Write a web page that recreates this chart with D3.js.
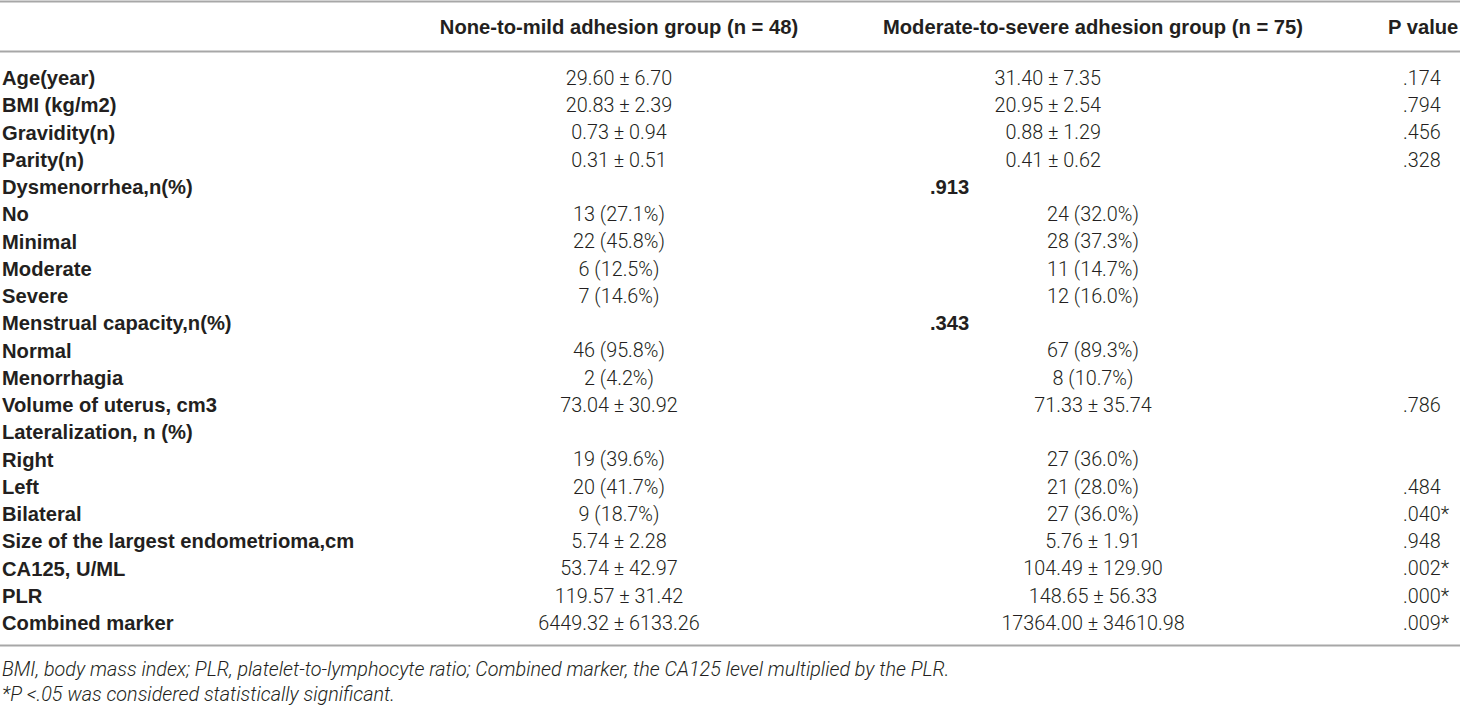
<!DOCTYPE html>
<html>
<head>
<meta charset="utf-8">
<script src="https://cdn.jsdelivr.net/npm/d3@7"></script>
<style>
  html, body { margin: 0; padding: 0; background: #fff; }
  svg { display: block; }
</style>
</head>
<body>
<svg id="chart" width="1460" height="706"></svg>
<script>
// ---------- data ----------
const columnHeaders = ["None-to-mild adhesion group (n = 48)", "Moderate-to-severe adhesion group (n = 75)", "P value"];

const rowLabels = [
  "Age(year)", "BMI (kg/m2)", "Gravidity(n)", "Parity(n)", "Dysmenorrhea,n(%)",
  "No", "Minimal", "Moderate", "Severe", "Menstrual capacity,n(%)",
  "Normal", "Menorrhagia", "Volume of uterus, cm3", "Lateralization, n (%)",
  "Right", "Left", "Bilateral", "Size of the largest endometrioma,cm",
  "CA125, U/ML", "PLR", "Combined marker"
];

const mildGroup = [
  "29.60 ± 6.70", "20.83 ± 2.39", "0.73 ± 0.94", "0.31 ± 0.51", "",
  "13 (27.1%)", "22 (45.8%)", "6 (12.5%)", "7 (14.6%)", "",
  "46 (95.8%)", "2 (4.2%)", "73.04 ± 30.92", "",
  "19 (39.6%)", "20 (41.7%)", "9 (18.7%)", "5.74 ± 2.28",
  "53.74 ± 42.97", "119.57 ± 31.42", "6449.32 ± 6133.26"
];

const severeGroup = [
  "31.40 ± 7.35", "20.95 ± 2.54", "0.88 ± 1.29", "0.41 ± 0.62", "",
  "24 (32.0%)", "28 (37.3%)", "11 (14.7%)", "12 (16.0%)", "",
  "67 (89.3%)", "8 (10.7%)", "71.33 ± 35.74", "",
  "27 (36.0%)", "21 (28.0%)", "27 (36.0%)", "5.76 ± 1.91",
  "104.49 ± 129.90", "148.65 ± 56.33", "17364.00 ± 34610.98"
];

const pValues = [
  ".174", ".794", ".456", ".328", "",
  "", "", "", "", "",
  "", "", ".786", "",
  "", ".484", ".040*", ".948",
  ".002*", ".000*", ".009*"
];

// section-level p values printed (bold) inside the second column area
const sectionPValues = [
  "", "", "", "", ".913",
  "", "", "", "", ".343",
  "", "", "", "",
  "", "", "", "",
  "", "", ""
];

const footnotes = [
  "BMI, body mass index; PLR, platelet-to-lymphocyte ratio; Combined marker, the CA125 level multiplied by the PLR.",
  "*P <.05 was considered statistically significant."
];

// ---------- drawing ----------
const W = 1460, H = 706;
const svg = d3.select("#chart");
const textColor = "#231f20";
const ruleColor = "#a7a7a7";
const labelFont = "'Liberation Sans', Arial, Helvetica, sans-serif";
const valueFont = "Roboto, 'Liberation Sans', Arial, sans-serif";
const labelSize = 20.2;
const valueSize = 19.8;
const noteSize = 19.8;

const idx = d3.range(rowLabels.length);
const y = d3.scalePoint().domain(idx).range([78, 623]);

const x = d3.scaleOrdinal()
  .domain(["label", "mild", "severe", "severeRight", "p", "sectionP", "pHeader"])
  .range([2, 619, 1093, 1101, 1403, 930, 1388]);

// horizontal rules
const rules = [1.5, 51.5, 645.5];
svg.selectAll("line.rule").data(rules).join("line")
  .attr("class", "rule")
  .attr("x1", 0).attr("x2", W)
  .attr("y1", d => d).attr("y2", d => d)
  .attr("stroke", ruleColor).attr("stroke-width", 2);

// headers
const headerY = 27;
const hdr = [
  {t: columnHeaders[0], x: x("mild"), a: "middle"},
  {t: columnHeaders[1], x: x("severe"), a: "middle"},
  {t: columnHeaders[2], x: x("pHeader"), a: "start"}
];
svg.selectAll("text.hdr").data(hdr).join("text")
  .attr("class", "hdr")
  .attr("x", d => d.x).attr("y", headerY)
  .attr("dy", "0.35em")
  .attr("text-anchor", d => d.a)
  .attr("font-family", labelFont).attr("font-weight", "bold")
  .attr("font-size", labelSize).attr("fill", textColor)
  .text(d => d.t);

// row labels
svg.selectAll("text.lab").data(idx).join("text")
  .attr("class", "lab")
  .attr("x", x("label")).attr("y", i => y(i)).attr("dy", "0.35em")
  .attr("font-family", labelFont).attr("font-weight", "bold")
  .attr("font-size", labelSize).attr("fill", textColor)
  .text(i => rowLabels[i]);

function valueCol(cls, arr, xf, anchorF) {
  svg.selectAll("text." + cls).data(idx.filter(i => arr[i] !== "")).join("text")
    .attr("class", cls)
    .attr("x", xf).attr("y", i => y(i)).attr("dy", "0.35em")
    .attr("text-anchor", anchorF)
    .attr("font-family", valueFont).attr("font-weight", 300)
    .attr("font-size", valueSize).attr("fill", textColor)
    .text(i => arr[i]);
}
valueCol("mild", mildGroup, () => x("mild"), () => "middle");
valueCol("severe", severeGroup,
  i => i < 4 ? x("severeRight") : x("severe"),
  i => i < 4 ? "end" : "middle");
valueCol("pv", pValues, () => x("p"), () => "start");

// section p values (bold)
svg.selectAll("text.sp").data(idx.filter(i => sectionPValues[i] !== "")).join("text")
  .attr("class", "sp")
  .attr("x", x("sectionP")).attr("y", i => y(i)).attr("dy", "0.35em")
  .attr("font-family", labelFont).attr("font-weight", "bold")
  .attr("font-size", labelSize).attr("fill", textColor)
  .text(i => sectionPValues[i]);

// footnotes
const fy = d3.scalePoint().domain(d3.range(footnotes.length)).range([669, 694]);
svg.selectAll("text.fn").data(footnotes).join("text")
  .attr("class", "fn")
  .attr("x", 2).attr("y", (d, i) => fy(i)).attr("dy", "0.35em")
  .attr("font-family", valueFont).attr("font-weight", 300).attr("font-style", "italic")
  .attr("font-size", noteSize).attr("fill", textColor)
  .text(d => d);
</script>
</body>
</html>
